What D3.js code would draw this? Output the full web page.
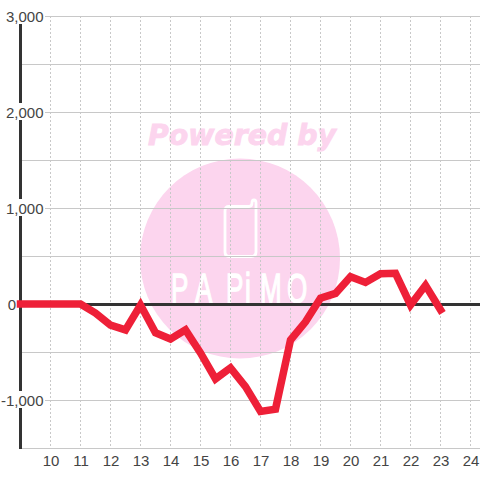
<!DOCTYPE html>
<html><head><meta charset="utf-8">
<style>html,body{margin:0;padding:0;background:#fff}svg{display:block}</style>
<script src="https://cdn.jsdelivr.net/npm/d3@7/dist/d3.min.js"></script></head>
<body><svg id="c" width="480" height="480"></svg>
<script>
const hours=[9,9.5,10,10.5,11,11.5,12,12.5,13,13.5,14,14.5,15,15.5,16,16.5,17,17.5,18,18.5,19,19.5,20,20.5,21,21.5,22,22.5,23];
const values=[0,0,0,0,0,-95,-220,-270,-10,-300,-365,-270,-510,-780,-665,-860,-1120,-1095,-375,-185,60,110,285,225,315,320,-10,195,-60];
const xTicks=[10,11,12,13,14,15,16,17,18,19,20,21,22,23,24];
const yGrid=[3000,2500,2000,1500,1000,500,0,-500,-1000,-1500];
const yLabels=[3000,2000,1000,0,-1000];
const watermarkTop="Powered by";
const watermarkLetters=["P","A","P","i","M","O"];
const letterLeft=[171,195,226,245,260,287];

const svg=d3.select("#c");
const x=d3.scaleLinear().domain([10,24]).range([50.5,470.5]);
const y=d3.scaleLinear().domain([3000,-1500]).range([16,448]);
const left=20,right=480;

// watermark
const pink="#fcd5ee";
const wm=svg.append("g");
wm.append("text").attr("x",148).attr("y",144.5)
  .attr("font-family","DejaVu Sans").attr("font-weight","bold").attr("font-style","italic")
  .attr("font-size",28.5).attr("textLength",188).attr("lengthAdjust","spacingAndGlyphs")
  .attr("fill",pink).attr("stroke",pink).attr("stroke-width",0.9).text(watermarkTop);
wm.append("circle").attr("cx",240).attr("cy",258.5).attr("r",100).attr("fill",pink);
wm.append("path").attr("d","M229 206.5H249Q252 206.5 252 203Q252 200 254 200Q256 200 256 203V252Q256 256.5 251 256.5H229.5Q225 256.5 225 252V211Q225 206.5 229 206.5Z")
  .attr("fill","none").attr("stroke","#fff").attr("stroke-width",2.8);
const sx=0.62;
wm.append("g").attr("transform",`scale(${sx},1)`).selectAll("text").data(watermarkLetters).join("text")
  .attr("x",(d,i)=>letterLeft[i]/sx).attr("y",303)
  .attr("font-family","Liberation Sans").attr("font-size",42)
  .attr("fill","#fff").attr("stroke","#fff").attr("stroke-width",1.4).text(d=>d);

// grid
svg.append("g").selectAll("line").data(yGrid).join("line")
  .attr("x1",left).attr("x2",right).attr("y1",d=>y(d)+.5).attr("y2",d=>y(d)+.5)
  .attr("stroke","#c8c8c8").attr("stroke-width",1);
svg.append("g").selectAll("line").data(xTicks).join("line")
  .attr("x1",d=>x(d)).attr("x2",d=>x(d)).attr("y1",16).attr("y2",448)
  .attr("stroke","#c8c8c8").attr("stroke-width",1).attr("stroke-dasharray","2,2");

// axes
svg.append("line").attr("x1",20.5).attr("x2",20.5).attr("y1",16).attr("y2",449)
  .attr("stroke","#333").attr("stroke-width",3);
svg.append("line").attr("x1",20).attr("x2",480).attr("y1",y(0)+.5).attr("y2",y(0)+.5)
  .attr("stroke","#333").attr("stroke-width",3);

// labels
const fmt=d3.format(",");
const labelEnd=d=>d===0?16:43.5;
const labelText=d=>fmt(d).replace("\u2212","-");
const yl=svg.append("g");
yl.selectAll("rect").data(yLabels.filter(d=>d!==0)).join("rect")
  .attr("x",d=>d<0?1:5).attr("width",d=>d<0?44:40)
  .attr("y",d=>y(d)-9).attr("height",17).attr("fill","#fff");
yl.selectAll("text").data(yLabels).join("text")
  .attr("font-family","Liberation Sans").attr("font-size",15).attr("fill","#444")
  .attr("x",labelEnd).attr("y",d=>y(d)+5.5).attr("text-anchor","end").text(labelText);
svg.append("g").attr("font-family","Liberation Sans").attr("font-size",15).attr("fill","#444")
  .selectAll("text").data(xTicks).join("text")
  .attr("x",d=>x(d)+.5).attr("y",466).attr("text-anchor","middle").text(d=>d);

// series
const line=d3.line().x((d,i)=>x(hours[i])).y(d=>y(d));
svg.append("path").datum(values).attr("d",line).attr("fill","none")
  .attr("stroke","#ee2038").attr("stroke-width",7.5).attr("stroke-linejoin","miter").attr("stroke-linecap","square");
</script></body></html>
